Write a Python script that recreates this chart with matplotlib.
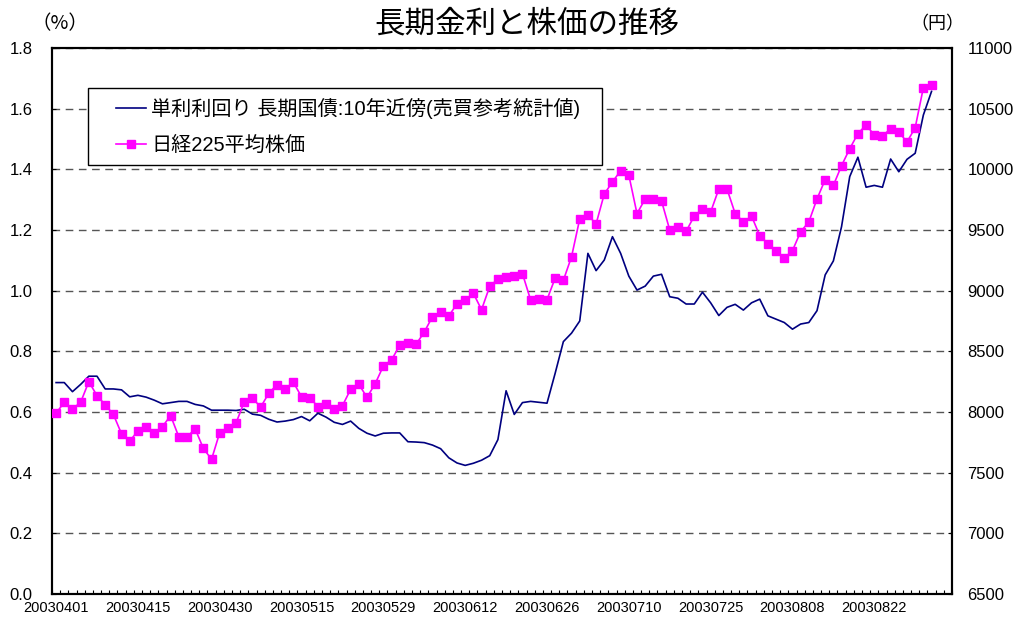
import numpy as np
import pandas as pd
import matplotlib
matplotlib.use("Agg")
import matplotlib.pyplot as plt
from matplotlib.lines import Line2D
from matplotlib.legend_handler import HandlerLine2D
from matplotlib.ticker import FixedLocator, MultipleLocator

plt.rcParams['font.family'] = ['Liberation Sans', 'Noto Sans CJK JP']

# --- data ---
# trading days from 2003-04-01 (TSE holidays removed), 110 category slots
holidays = ['2003-04-29', '2003-05-05', '2003-07-21']
n_slots = 110
dates = pd.bdate_range('2003-04-01', periods=n_slots, freq='C', holidays=holidays)
date_labels = [d.strftime('%Y%m%d') for d in dates]

# 10-year JGB yield (%)
jgb_yield = [
    0.697, 0.697, 0.667, 0.691, 0.718, 0.718, 0.676, 0.676, 0.673, 0.650,
    0.655, 0.649, 0.639, 0.627, 0.631, 0.635, 0.635, 0.625, 0.620, 0.606,
    0.606, 0.606, 0.605, 0.609, 0.593, 0.589, 0.576, 0.567, 0.570, 0.575,
    0.585, 0.571, 0.596, 0.583, 0.566, 0.559, 0.570, 0.546, 0.530, 0.521,
    0.530, 0.531, 0.531, 0.502, 0.501, 0.499, 0.491, 0.479, 0.449, 0.432,
    0.424, 0.431, 0.441, 0.456, 0.509, 0.670, 0.592, 0.631, 0.635, 0.632,
    0.629, 0.728, 0.832, 0.860, 0.900, 1.123, 1.066, 1.101, 1.178, 1.123,
    1.048, 1.002, 1.015, 1.048, 1.054, 0.980, 0.975, 0.956, 0.956, 0.995,
    0.960, 0.918, 0.945, 0.955, 0.936, 0.960, 0.972, 0.917, 0.906, 0.895,
    0.873, 0.890, 0.895, 0.934, 1.052, 1.098, 1.211, 1.376, 1.440, 1.341,
    1.347, 1.341, 1.434, 1.392, 1.433, 1.453, 1.579, 1.657,
]

# Nikkei 225 (yen)
nikkei = [
    7990, 8080, 8025, 8080, 8250, 8135, 8060, 7980, 7820, 7760,
    7845, 7880, 7825, 7880, 7970, 7795, 7795, 7860, 7700, 7610,
    7830, 7870, 7910, 8085, 8115, 8040, 8155, 8225, 8190, 8245,
    8125, 8118, 8045, 8063, 8022, 8052, 8187, 8228, 8121, 8233,
    8379, 8429, 8550, 8569, 8558, 8659, 8786, 8824, 8791, 8893,
    8920, 8978, 8843, 9036, 9096, 9113, 9123, 9140, 8923, 8931,
    8926, 9104, 9085, 9280, 9591, 9624, 9550, 9797, 9896, 9989,
    9953, 9635, 9756, 9753, 9739, 9500, 9528, 9489, 9615, 9671,
    9648, 9838, 9838, 9635, 9566, 9615, 9453, 9387, 9324, 9267,
    9330, 9486, 9566, 9756, 9915, 9868, 10030, 10170, 10294, 10366,
    10283, 10275, 10335, 10308, 10225, 10343, 10673, 10693,
]

label_yield = "単利利回り 長期国債:10年近傍(売買参考統計値)  "
label_nikkei = "日経225平均株価"

# --- figure ---
W, H = 1020, 623
fig = plt.figure(figsize=(W / 100, H / 100), dpi=100)
ax = fig.add_axes([52 / W, 1 - 594 / H, 900 / W, 546 / H])
ax2 = ax.twinx()

x = np.arange(len(jgb_yield))
ax.plot(x, jgb_yield, color='#000080', lw=1.2, zorder=3)
ax2.plot(x, nikkei, color='#FF00FF', lw=1.2, marker='s', ms=5.5, zorder=3)

ax.set_xlim(-0.5, n_slots - 0.5)
ax.set_ylim(0, 1.8)
ax2.set_ylim(6500, 11000)

ax.yaxis.set_major_locator(MultipleLocator(0.2))
ax.yaxis.set_major_formatter(plt.FuncFormatter(lambda v, p: f"{v:.1f}"))
ax2.yaxis.set_major_locator(MultipleLocator(500))

ax.grid(axis='y', color='#555555', lw=1.0, linestyle=(0, (5.5, 4)))
ax.set_axisbelow(True)

# x: labels every 10 trading days, tick marks at category boundaries
label_pos = list(range(0, n_slots, 10))
ax.xaxis.set_major_locator(FixedLocator(label_pos))
ax.set_xticklabels([date_labels[i] for i in label_pos])
ax.xaxis.set_minor_locator(FixedLocator(np.arange(-0.5, n_slots, 1.0)))
ax.tick_params(axis='x', which='major', length=0, labelsize=10.5, pad=5)
ax.tick_params(axis='x', which='minor', direction='in', length=3, width=0.8)

ax.tick_params(axis='y', direction='in', length=3, labelsize=12, pad=14)
ax2.tick_params(axis='y', direction='in', length=3, labelsize=12, pad=11)

for a in (ax, ax2):
    for s in a.spines.values():
        s.set_linewidth(1.5)

# title and unit labels
cjk = ['Noto Sans CJK JP', 'DejaVu Sans']
fig.text(527 / W, 1 - 24 / H, "長期金利と株価の推移", ha='center', va='center',
         fontsize=22)
fig.text(60 / W, 1 - 24 / H, "（%）", ha='center', va='center', fontsize=14,
         family=cjk)
fig.text(937 / W, 1 - 24 / H, "（円）", ha='center', va='center', fontsize=13,
         family=cjk)

# legend
handles = [Line2D([], [], color='#000080', lw=1.2),
           Line2D([], [], color='#FF00FF', lw=1.2, marker='s', ms=5.5)]
leg = ax2.legend(handles, [label_yield, label_nikkei], loc='upper left',
                 bbox_to_anchor=(88 / W, 1 - 88 / H), bbox_transform=fig.transFigure,
                 borderaxespad=0, fontsize=14.5, frameon=True, fancybox=False,
                 edgecolor='black', framealpha=1, borderpad=0.5, labelspacing=0.85,
                 handlelength=2.4, handletextpad=0.25,
                 handler_map={Line2D: HandlerLine2D(xpad=0.9)})
leg.get_frame().set_linewidth(1.0)

fig.savefig("out.png", dpi=100)
